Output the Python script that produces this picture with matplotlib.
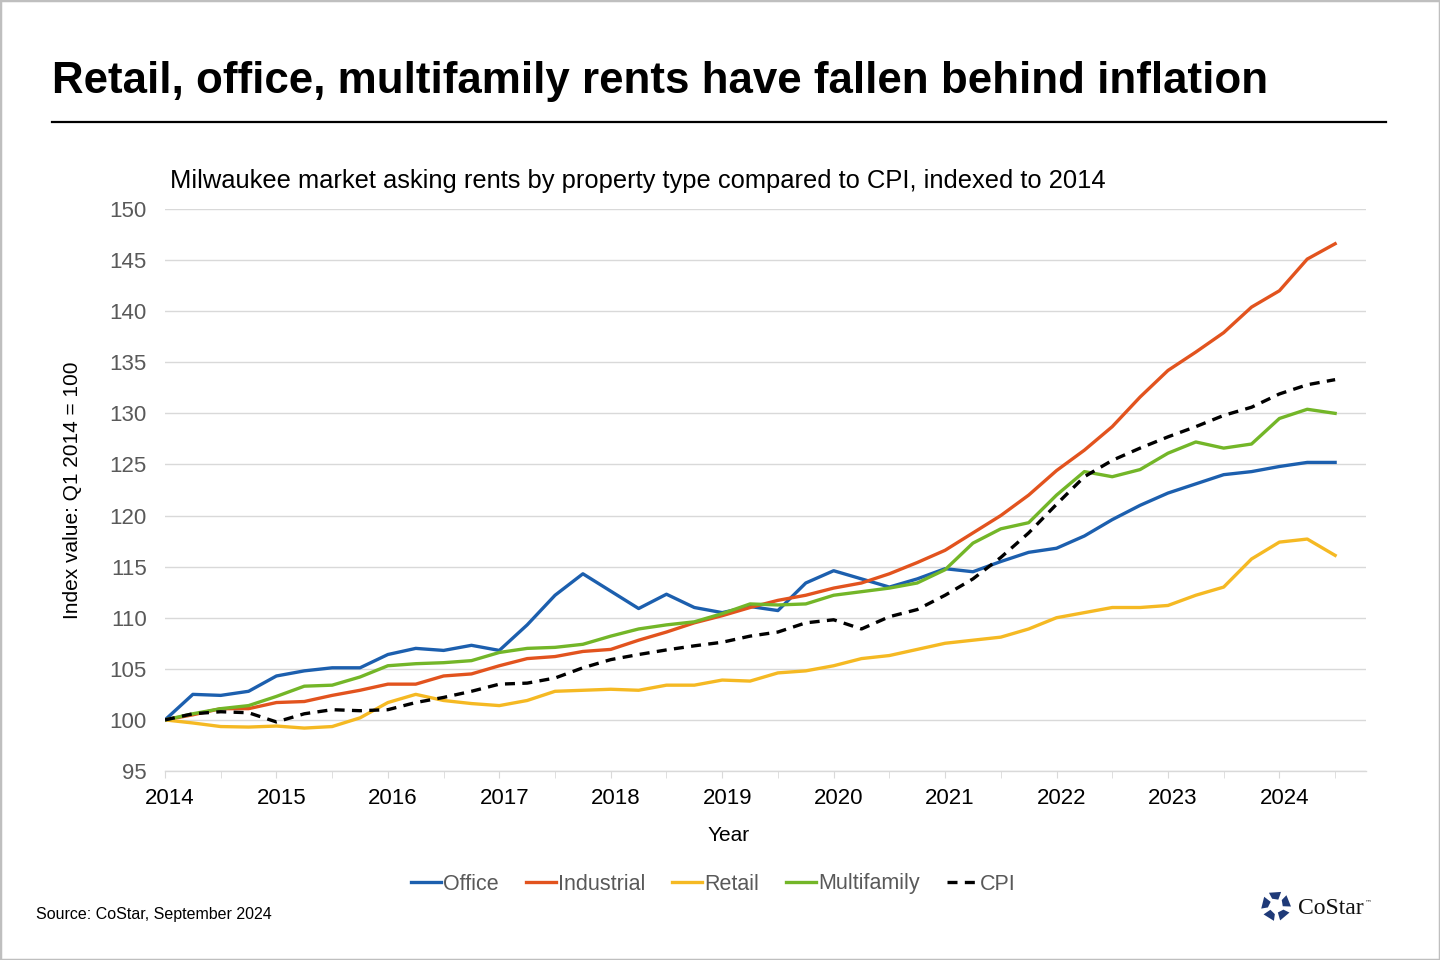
import numpy as np
import matplotlib
matplotlib.use('Agg')
import matplotlib.pyplot as plt
import matplotlib.transforms as mtransforms
from matplotlib.patches import Polygon, Rectangle
from matplotlib.lines import Line2D

plt.rcParams['font.family'] = ['Liberation Sans', 'DejaVu Sans']

# quarterly index values, Q1 2014 through Q3 2024
start_year = 2014
office = [100.0, 102.5, 102.4, 102.8, 104.3, 104.8, 105.1, 105.1, 106.4, 107.0,
          106.8, 107.3, 106.8, 109.3, 112.2, 114.3, 112.6, 110.9, 112.3, 111.0,
          110.5, 111.1, 110.7, 113.4, 114.6, 113.8, 113.0, 113.8, 114.8, 114.5,
          115.5, 116.4, 116.8, 118.0, 119.6, 121.0, 122.2, 123.1, 124.0, 124.3,
          124.8, 125.2, 125.2]
industrial = [100.0, 100.5, 101.1, 101.1, 101.7, 101.8, 102.4, 102.9, 103.5, 103.5,
              104.3, 104.5, 105.3, 106.0, 106.2, 106.7, 106.9, 107.8, 108.6, 109.5,
              110.2, 111.0, 111.7, 112.2, 112.9, 113.4, 114.3, 115.4, 116.6, 118.3,
              120.0, 122.0, 124.4, 126.4, 128.7, 131.6, 134.2, 136.0, 137.9, 140.4,
              142.0, 145.1, 146.6]
retail = [100.0, 99.7, 99.35, 99.3, 99.4, 99.2, 99.35, 100.2, 101.7, 102.5,
          101.9, 101.6, 101.4, 101.9, 102.8, 102.9, 103.0, 102.9, 103.4, 103.4,
          103.9, 103.8, 104.6, 104.8, 105.3, 106.0, 106.3, 106.9, 107.5, 107.8,
          108.1, 108.9, 110.0, 110.5, 111.0, 111.0, 111.2, 112.2, 113.0, 115.75,
          117.4, 117.7, 116.1]
multifamily = [100.0, 100.6, 101.1, 101.4, 102.3, 103.3, 103.4, 104.2, 105.3, 105.5,
               105.6, 105.8, 106.6, 107.0, 107.1, 107.4, 108.2, 108.9, 109.3, 109.6,
               110.4, 111.35, 111.25, 111.35, 112.2, 112.55, 112.9, 113.4, 114.7, 117.3,
               118.7, 119.3, 122.0, 124.3, 123.8, 124.5, 126.1, 127.2, 126.6, 127.0,
               129.5, 130.4, 130.0]
cpi = [100.0, 100.6, 100.8, 100.7, 99.8, 100.6, 101.0, 100.9, 101.0, 101.7,
       102.2, 102.8, 103.5, 103.6, 104.1, 105.1, 105.9, 106.4, 106.85, 107.25,
       107.6, 108.2, 108.6, 109.5, 109.8, 108.9, 110.1, 110.8, 112.2, 113.8,
       115.9, 118.3, 121.1, 123.8, 125.4, 126.6, 127.7, 128.7, 129.8, 130.6,
       131.9, 132.8, 133.3]

series = [
    ('Office', office, '#1c5fae', '-'),
    ('Industrial', industrial, '#e2531e', '-'),
    ('Retail', retail, '#f5b923', '-'),
    ('Multifamily', multifamily, '#73b628', '-'),
    ('CPI', cpi, 'black', (0, (3, 2.2))),
]
years = list(range(2014, 2025))
y_ticks = list(range(95, 151, 5))

x = start_year + np.arange(len(office)) / 4.0

fig = plt.figure(figsize=(14.4, 9.6), dpi=100)
ax = fig.add_axes([165 / 1440, 1 - 771 / 960, 1201 / 1440, 562 / 960])

for name, vals, color, ls in series:
    ax.plot(x, vals, color=color, linestyle=ls, linewidth=2.4, label=name,
            solid_joinstyle='round')

ax.set_xlim(2014, 2014 + 1201 / 111.44)
ax.set_ylim(95, 150)
ax.set_yticks(y_ticks)
ax.set_xticks(years)
ax.set_xticks([yy + 0.5 for yy in years], minor=True)
ax.grid(axis='y', color='#d9d9d9', linewidth=1)
ax.set_axisbelow(True)
for s in ['top', 'right', 'left']:
    ax.spines[s].set_visible(False)
ax.spines['bottom'].set_color('#d9d9d9')
ax.spines['bottom'].set_linewidth(1)
ax.tick_params(axis='y', length=0, labelsize=16, labelcolor='#595959', pad=13)
ax.tick_params(axis='x', which='both', length=5, color='#d9d9d9', labelsize=16,
               labelcolor='black', pad=7)

# year labels sit a little right of their ticks in the original
shift = mtransforms.ScaledTranslation(5 / 100, 0, fig.dpi_scale_trans)
for lab in ax.get_xticklabels():
    lab.set_transform(lab.get_transform() + shift)

ax.set_ylabel('Index value: Q1 2014 = 100', fontsize=15)
ax.yaxis.set_label_coords(-0.069, 0.5)
ax.set_xlabel('Year', fontsize=15)
ax.xaxis.set_label_coords(0.469, -0.098)

# titles and notes
fig.text(52 / 1440, 1 - 82 / 960, 'Retail, office, multifamily rents have fallen behind inflation',
         fontsize=31.6, fontweight='bold', va='center', ha='left')
fig.add_artist(Line2D([52 / 1440, 1386 / 1440], [1 - 122 / 960] * 2, color='black', linewidth=1.6))
fig.text(170 / 1440, 1 - 181 / 960,
         'Milwaukee market asking rents by property type compared to CPI, indexed to 2014',
         fontsize=18.35, va='center', ha='left')
fig.text(36 / 1440, 1 - 914 / 960, 'Source: CoStar, September 2024', fontsize=11.5,
         va='center', ha='left')

leg = fig.legend(loc='center', bbox_to_anchor=(713 / 1440, 1 - 884 / 960), ncol=5,
                 frameon=False, fontsize=15.5, handlelength=1.4, handletextpad=0.1,
                 columnspacing=1.25)
for t in leg.get_texts():
    t.set_color('#595959')

# CoStar logo mark
cx, cy, r = 1276, 906, 15
navy = '#1f3a78'
for k in range(5):
    a0 = np.deg2rad(90 + k * 72 - 20)
    a1 = np.deg2rad(90 + k * 72 + 28)
    pts = []
    for a, rr in [(a0, r * 0.45), (a0, r), (a1, r), (a1, r * 0.55)]:
        pts.append(((cx + rr * np.cos(a)) / 1440, 1 - (cy - rr * np.sin(a)) / 960))
    fig.add_artist(Polygon(pts, closed=True, facecolor=navy, edgecolor='none',
                           transform=fig.transFigure))
fig.text(1298 / 1440, 1 - 908 / 960, 'CoStar', fontsize=17, family='Liberation Serif',
         va='center', ha='left', color='#111111')
fig.text(1365 / 1440, 1 - 902 / 960, '™', fontsize=5, family='DejaVu Sans',
         va='center', ha='left', color='#333333')

# outer frame
fig.add_artist(Rectangle((0, 0), 1, 1, transform=fig.transFigure, fill=False,
                         edgecolor='#bfbfbf', linewidth=2.5))

fig.savefig('out.png', dpi=100)
